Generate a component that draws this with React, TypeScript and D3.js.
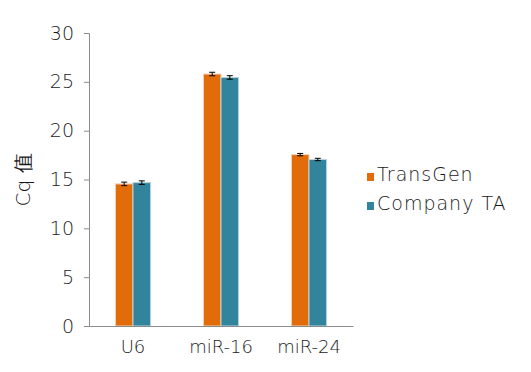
import React, { useEffect, useRef } from 'react';
import * as d3 from 'd3';

const categories = ['U6', 'miR-16', 'miR-24'];
const seriesNames = ['TransGen', 'Company TA'];
const transGen = [14.55, 25.8, 17.55];
const companyTA = [14.68, 25.45, 17.05];
const transGenErr = [0.18, 0.18, 0.12];
const companyTAErr = [0.18, 0.18, 0.12];
const yTicks = [0, 5, 10, 15, 20, 25, 30];

const colors = ['#e36c0a', '#31849b'];
const fontFamily = '"DejaVu Sans", sans-serif';
const textColor = '#1a1a1a';

const App: React.FC = () => {
    const svgRef = useRef<SVGSVGElement>(null);

    useEffect(() => {
        if (!svgRef.current) return;
        const svg = d3.select(svgRef.current);
        svg.selectAll('*').remove();

        const margin = { left: 89, top: 33, right: 178, bottom: 46 };
        const width = 531;
        const height = 372;

        const x0 = d3.scaleBand<string>()
            .domain(categories)
            .range([margin.left, width - margin.right])
            .paddingInner(0.6)
            .paddingOuter(0.3);
        const x1 = d3.scaleBand<string>()
            .domain(seriesNames)
            .range([0, x0.bandwidth()]);
        const y = d3.scaleLinear().domain([0, 30]).range([height - margin.bottom, margin.top]);

        const series = [
            { name: seriesNames[0], values: transGen, errs: transGenErr },
            { name: seriesNames[1], values: companyTA, errs: companyTAErr },
        ];

        // bars
        series.forEach((s, si) => {
            const g = svg.append('g');
            g.selectAll('rect')
                .data(s.values)
                .enter()
                .append('rect')
                .attr('x', (_, i) => (x0(categories[i]) ?? 0) + (x1(s.name) ?? 0))
                .attr('y', d => y(d))
                .attr('width', x1.bandwidth())
                .attr('height', d => y(0) - y(d))
                .attr('fill', colors[si])
                .attr('stroke', si === 0 ? '#f6d2b8' : '#b9d4dc')
                .attr('stroke-width', 1);
        });

        // error bars
        series.forEach(s => {
            const g = svg.append('g').attr('stroke', '#000').attr('stroke-width', 1);
            s.values.forEach((v, i) => {
                const cx = (x0(categories[i]) ?? 0) + (x1(s.name) ?? 0) + x1.bandwidth() / 2;
                const e = s.errs[i];
                g.append('line').attr('x1', cx).attr('x2', cx).attr('y1', y(v + e)).attr('y2', y(v - e));
                g.append('line').attr('x1', cx - 3).attr('x2', cx + 3).attr('y1', y(v + e)).attr('y2', y(v + e));
                g.append('line').attr('x1', cx - 3).attr('x2', cx + 3).attr('y1', y(v - e)).attr('y2', y(v - e));
            });
        });

        const styleText = (sel: d3.Selection<any, any, any, any>, size: number) =>
            sel.attr('fill', textColor)
                .style('font-size', `${size}px`)
                .style('font-weight', 200)
                .style('font-family', fontFamily);

        // y axis
        const yAxis = d3.axisLeft(y).tickValues(yTicks).tickSize(5).tickPadding(10);
        const ya = svg.append('g').attr('transform', `translate(${margin.left},0)`).call(yAxis);
        ya.select('.domain').attr('stroke', '#8c8c8c');
        ya.selectAll('line').attr('stroke', '#8c8c8c');
        styleText(ya.selectAll('text'), 19);

        // x axis
        const xa = svg.append('g')
            .attr('transform', `translate(0,${y(0)})`)
            .call(d3.axisBottom(x0).tickSize(0).tickPadding(14).tickSizeOuter(0));
        xa.select('.domain').attr('stroke', '#8c8c8c');
        styleText(xa.selectAll('text'), 18);

        // y label
        styleText(
            svg.append('text')
                .attr('transform', 'translate(30,180) rotate(-90)')
                .attr('text-anchor', 'middle')
                .text('Cq 值'),
            20
        );

        // legend
        const legend = svg.append('g').attr('transform', 'translate(367,173)');
        seriesNames.forEach((name, i) => {
            const row = legend.append('g').attr('transform', `translate(0,${i * 29})`);
            row.append('rect').attr('width', 7).attr('height', 8).attr('fill', colors[i]);
            styleText(
                row.append('text')
                    .attr('x', 10)
                    .attr('y', 8)
                    .style('letter-spacing', '1px')
                    .text(name),
                19
            );
        });
    }, []);

    return <svg ref={svgRef} width={531} height={372} style={{ display: 'block', margin: '-8px' }} />;
};

export default App;
